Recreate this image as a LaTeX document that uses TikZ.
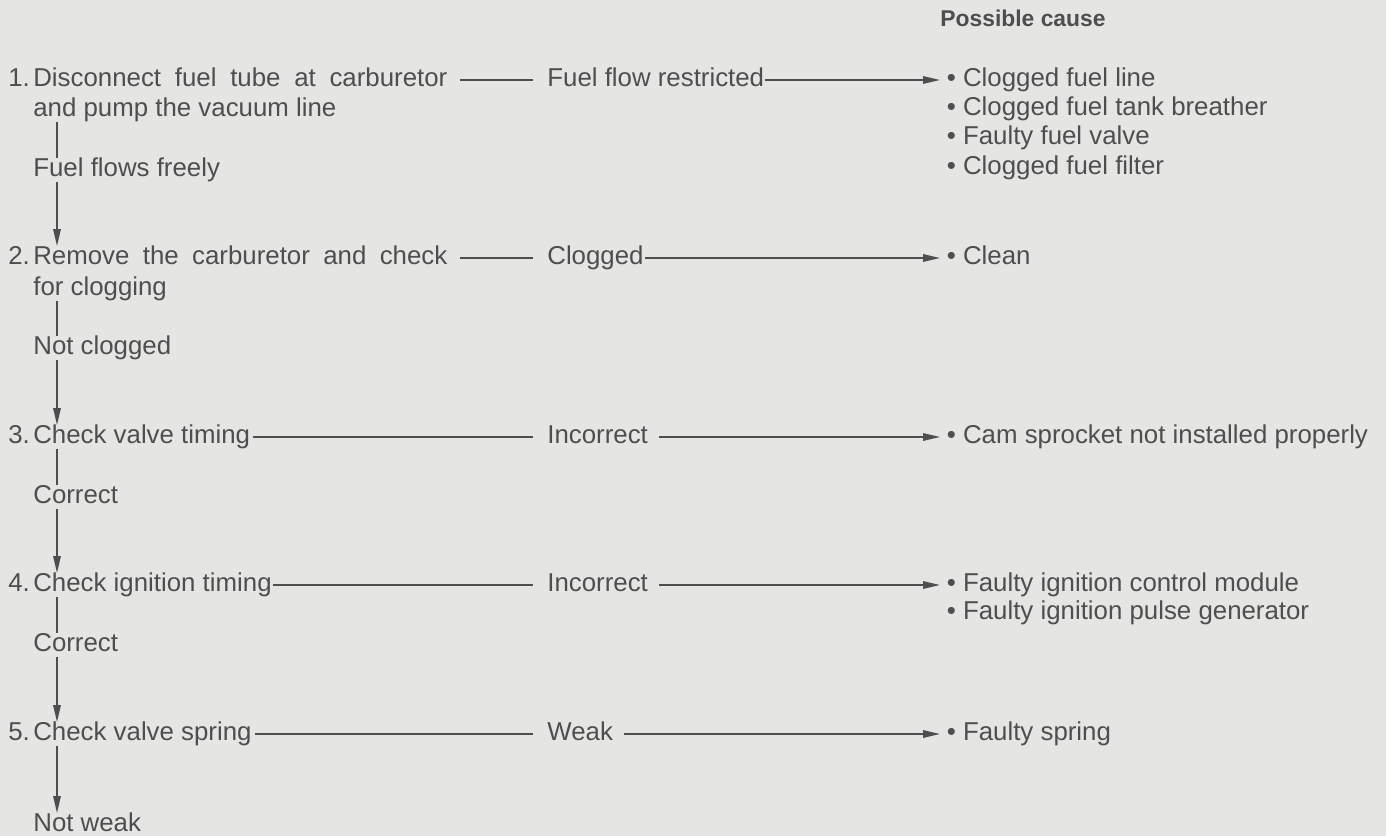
\documentclass[tikz,border=0pt]{standalone}
\usepackage{fontspec}
\setmainfont{Liberation Sans}
\usetikzlibrary{arrows.meta}
\definecolor{paper}{RGB}{229,229,227}
\definecolor{ink}{RGB}{78,78,78}
\newcommand{\stepno}[1]{\makebox[0.5cm][l]{#1.}}
\newcommand{\jline}[1]{\makebox[8.28cm][s]{#1}}
\tikzset{
  txt/.style={anchor=west, inner sep=0pt, text height=10.3pt, text depth=2.9pt,
    text=ink, font=\fontsize{14.7}{17}\selectfont},
  link/.style={draw=ink, line width=0.9pt},
  >={Triangle[length=0.34cm,width=0.15cm]}
}
\begin{document}
\begin{tikzpicture}[scale=1.0]
\path[use as bounding box, fill=paper] (0,0) rectangle (27.72,-16.72);
\coordinate (vx) at (1.14,0);
\node[txt,anchor=center,font=\fontsize{13}{15}\bfseries] (hd) at (20.46,-0.40) {Possible cause};
% steps
\node[txt] (s1) at (0.16,-1.60) {\stepno{1}\jline{Disconnect fuel tube at carburetor}};
\node[txt] (s1b) at (0.66,-2.20) {and pump the vacuum line};
\node[txt] (f1) at (0.66,-3.40) {Fuel flows freely};
\node[txt] (s2) at (0.16,-5.16) {\stepno{2}\jline{Remove the carburetor and check}};
\node[txt] (s2b) at (0.66,-5.78) {for clogging};
\node[txt] (f2) at (0.66,-6.96) {Not clogged};
\node[txt] (s3) at (0.16,-8.74) {\stepno{3}Check valve timing};
\node[txt] (f3) at (0.66,-9.94) {Correct};
\node[txt] (s4) at (0.16,-11.70) {\stepno{4}Check ignition timing};
\node[txt] (f4) at (0.66,-12.90) {Correct};
\node[txt] (s5) at (0.16,-14.68) {\stepno{5}Check valve spring};
\node[txt] (f5) at (0.66,-16.50) {Not weak};
% results
\node[txt] (m1) at (10.94,-1.60) {Fuel flow restricted};
\node[txt] (m2) at (10.94,-5.16) {Clogged};
\node[txt] (m3) at (10.94,-8.74) {Incorrect};
\node[txt] (m4) at (10.94,-11.70) {Incorrect};
\node[txt] (m5) at (10.94,-14.68) {Weak};
% causes
\node[txt] (c1) at (18.93,-1.60) {• Clogged fuel line};
\node[txt] (c1b) at (18.93,-2.18) {• Clogged fuel tank breather};
\node[txt] (c1c) at (18.93,-2.76) {• Faulty fuel valve};
\node[txt] (c1d) at (18.93,-3.36) {• Clogged fuel filter};
\node[txt] (c2) at (18.93,-5.16) {• Clean};
\node[txt] (c3) at (18.93,-8.74) {• Cam sprocket not installed properly};
\node[txt] (c4) at (18.93,-11.70) {• Faulty ignition control module};
\node[txt] (c4b) at (18.93,-12.26) {• Faulty ignition pulse generator};
\node[txt] (c5) at (18.93,-14.68) {• Faulty spring};
\foreach \u/\l/\d in {s1b/f1/s2, s2b/f2/s3, s3/f3/s4, s4/f4/s5}{
  \draw[link] (\u.south -| vx) -- (\l.north -| vx);
  \draw[link,->] (\l.south -| vx) -- (\d.north -| vx);
}
\draw[link,->] (s5.south -| vx) -- (f5.north -| vx);
\foreach \s/\m/\g in {s1/m1/0.24, s2/m2/0.24, s3/m3/0.06, s4/m4/0.02, s5/m5/0.06}
  \draw[link,shorten <=\g cm,shorten >=0.28cm] (\s) -- (\m);
\foreach \m/\c/\g in {m1/c1/0.02, m2/c2/0.02, m3/c3/0.22, m4/c4/0.22, m5/c5/0.22}
  \draw[link,->,shorten <=\g cm,shorten >=0.13cm] (\m) -- (\c);
\end{tikzpicture}
\end{document}
